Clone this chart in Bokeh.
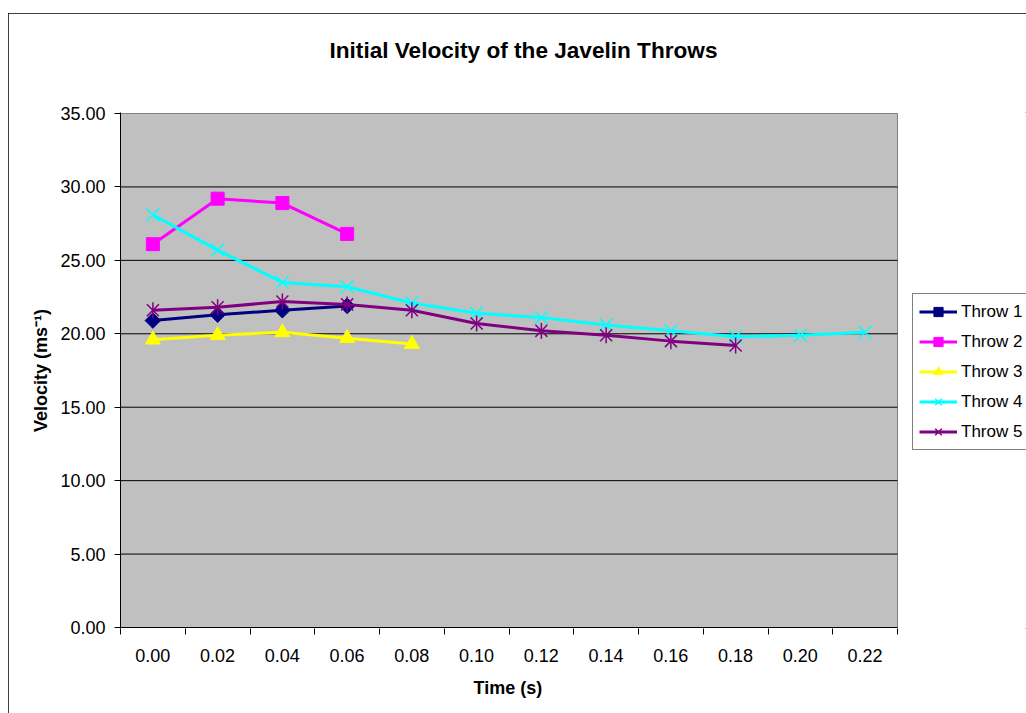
import math
from bokeh.plotting import figure
from bokeh.models import (Range1d, FixedTicker, PrintfTickFormatter, Legend, LegendItem, Title)
from bokeh.embed import file_html
from bokeh.resources import INLINE

# ---- data ----
categories = ["0.00", "0.02", "0.04", "0.06", "0.08", "0.10",
              "0.12", "0.14", "0.16", "0.18", "0.20", "0.22"]
throw1 = [20.9, 21.3, 21.6, 21.9]
throw2 = [26.1, 29.2, 28.9, 26.8]
throw3 = [19.6, 19.9, 20.1, 19.7, 19.3]
throw4 = [28.1, 25.7, 23.5, 23.2, 22.1, 21.4, 21.1, 20.6, 20.2, 19.8, 19.9, 20.1]
throw5 = [21.6, 21.8, 22.2, 22.0, 21.6, 20.7, 20.2, 19.9, 19.5, 19.2]
y_ticks = [0, 5, 10, 15, 20, 25, 30, 35]
y_min, y_max = 0, 35

FONT = "Liberation Sans"

# geometry of the plot area (pixels)
CAT_PX = 777 / len(categories)          # width of one category
FRAME_W = 906                           # frame runs to the right edge (room for legend)
Y_PX = 514 / (y_max - y_min)            # pixels per velocity unit
pad_y = 1 / Y_PX                        # one pixel of slack top/bottom

n = len(categories)
x_start = -0.5
x_end = x_start + FRAME_W / CAT_PX

p = figure(width=1018, height=700, output_backend="svg", toolbar_location=None,
           title_location=None,
           x_range=Range1d(x_start, x_end),
           y_range=Range1d(y_min - pad_y, y_max + pad_y),
           min_border_left=112, min_border_right=0, min_border_top=99,
           min_border_bottom=85)
p.margin = (13, 0, 0, 8)
p.styles = {"outline": "1px solid black", "outline-offset": "-1px"}

p.background_fill_color = "white"
p.border_fill_color = "white"
p.outline_line_color = None

# plot area (grey) limited to the category span
p.quad(left=[-0.5], right=[n - 0.5], bottom=[y_min], top=[y_max],
       fill_color="#C0C0C0", line_color="#808080", line_width=1)
# horizontal gridlines
grid_vals = y_ticks[1:-1]
p.segment(x0=[-0.5] * len(grid_vals), x1=[n - 0.5] * len(grid_vals),
          y0=grid_vals, y1=grid_vals, line_color="black", line_width=1)
# category axis line
p.segment(x0=[-0.5], x1=[n - 0.5], y0=[y_min], y1=[y_min], line_color="black", line_width=1)

# title (spacer first so the title sits higher above the frame)
spacer = Title(text=" ", text_font=FONT, text_font_size="39px", standoff=0)
p.add_layout(spacer, "above")
main_title = Title(text="Initial Velocity of the Javelin Throws", text_font=FONT,
                   text_font_size="22.6px", text_font_style="bold", text_color="black",
                   align="left", offset=209, standoff=10)
p.add_layout(main_title, "above")

# axes
idx = list(range(n))
p.xaxis.ticker = FixedTicker(ticks=idx, minor_ticks=[i - 0.5 for i in range(n + 1)])
p.xaxis.major_label_overrides = {i: c for i, c in enumerate(categories)}
p.xaxis.major_tick_out = 0
p.xaxis.major_tick_in = 0
p.xaxis.minor_tick_out = 6
p.xaxis.minor_tick_in = 0
p.xaxis.minor_tick_line_color = "black"
p.xaxis.axis_line_color = None

p.yaxis.ticker = FixedTicker(ticks=y_ticks)
p.yaxis.formatter = PrintfTickFormatter(format="%.2f")
p.yaxis.major_tick_out = 6
p.yaxis.major_tick_in = 0
p.yaxis.minor_tick_line_color = None
p.yaxis.axis_line_color = "black"
p.yaxis.axis_label = "Velocity (ms\u207b\u00b9)"

for ax in (p.xaxis[0], p.yaxis[0]):
    ax.major_tick_line_color = "black"
    ax.major_label_text_font = FONT
    ax.major_label_text_font_size = "18px"
    ax.major_label_text_color = "black"
    ax.axis_label_text_font = FONT
    ax.axis_label_text_font_size = "18px"
    ax.axis_label_text_font_style = "bold"
    ax.axis_label_text_color = "black"

p.xaxis.major_label_standoff = 14
p.yaxis.major_label_standoff = 9
p.yaxis.axis_label_standoff = 6

# x axis title, centred under the category span
x_title = Title(text="Time (s)", text_font=FONT, text_font_size="18px",
                text_font_style="bold", text_color="black",
                align="left", offset=353, vertical_align="top", standoff=26)
p.add_layout(x_title, "below")

p.xgrid.visible = False
p.ygrid.visible = False

# ---- series ----
LW = 3
items = []

x1 = list(range(len(throw1)))
l1 = p.line(x1, throw1, line_color="#000080", line_width=LW)
m1 = p.scatter(x1, throw1, marker="square", size=11, angle=math.pi / 4,
               fill_color="#000080", line_color="#000080")
items.append(LegendItem(label="Throw 1", renderers=[l1, m1]))

x2 = list(range(len(throw2)))
l2 = p.line(x2, throw2, line_color="#FF00FF", line_width=LW)
m2 = p.scatter(x2, throw2, marker="square", size=13,
               fill_color="#FF00FF", line_color="#FF00FF")
items.append(LegendItem(label="Throw 2", renderers=[l2, m2]))

x3 = list(range(len(throw3)))
l3 = p.line(x3, throw3, line_color="#FFFF00", line_width=LW)
m3 = p.scatter(x3, throw3, marker="triangle", size=15,
               fill_color="#FFFF00", line_color="#FFFF00")
items.append(LegendItem(label="Throw 3", renderers=[l3, m3]))

x4 = list(range(len(throw4)))
l4 = p.line(x4, throw4, line_color="#00FFFF", line_width=LW)
m4 = p.scatter(x4, throw4, marker="x", size=18, line_width=1.5,
               line_color="#00FFFF")
items.append(LegendItem(label="Throw 4", renderers=[l4, m4]))

x5 = list(range(len(throw5)))
l5 = p.line(x5, throw5, line_color="#800080", line_width=LW)
m5 = p.scatter(x5, throw5, marker="x", size=17, line_width=1.5,
               line_color="#800080")
m5b = p.scatter(x5, throw5, marker="dash", size=16, angle=math.pi / 2,
                line_width=1.5, line_color="#800080")
items.append(LegendItem(label="Throw 5", renderers=[l5, m5, m5b]))

legend = Legend(items=items, location=(792, 178))
legend.label_text_font = FONT
legend.label_text_font_size = "17px"
legend.label_text_color = "black"
legend.glyph_width = 38
legend.glyph_height = 23
legend.label_height = 23
legend.spacing = 7
legend.padding = 6
legend.margin = 0
legend.label_standoff = 4
legend.border_line_color = "black"
legend.border_line_width = 1
legend.background_fill_color = "white"
legend.background_fill_alpha = 1
p.add_layout(legend, "center")

open("out.html", "w").write(file_html(p, INLINE))
